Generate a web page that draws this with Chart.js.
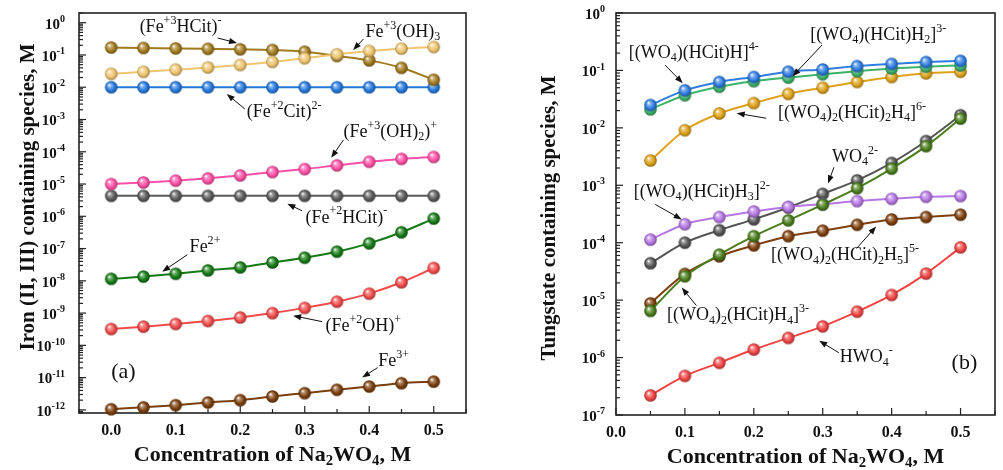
<!DOCTYPE html>
<html>
<head>
<meta charset="utf-8">
<script src="https://cdn.jsdelivr.net/npm/chart.js@4.4.0/dist/chart.umd.min.js"></script>
<style>
  html, body { margin: 0; padding: 0; background: #fff; }
  #wrap { position: relative; width: 1003px; height: 470px; }
  canvas { position: absolute; top: 0; }
</style>
</head>
<body>
<div id="wrap">
  <canvas id="chartA" width="495" height="470" style="left:0"></canvas>
  <canvas id="chartB" width="508" height="470" style="left:495px"></canvas>
</div>
<script>
// concentration of Na2WO4, M
const concA = [0, 0.05, 0.1, 0.15, 0.2, 0.25, 0.3, 0.35, 0.4, 0.45, 0.5];
const concB = [0.05, 0.1, 0.15, 0.2, 0.25, 0.3, 0.35, 0.4, 0.45, 0.5];

// (a) iron species, M
const fe3HCit = [0.17, 0.165, 0.16, 0.155, 0.15, 0.143, 0.126, 0.093, 0.068, 0.04, 0.017];
const fe3OH3 = [0.026, 0.030, 0.035, 0.041, 0.049, 0.061, 0.079, 0.105, 0.133, 0.157, 0.177];
const fe2Cit = [0.01, 0.01, 0.01, 0.01, 0.01, 0.01, 0.01, 0.01, 0.01, 0.01, 0.01];
const fe3OH2 = [1.0e-5, 1.12e-5, 1.27e-5, 1.5e-5, 1.85e-5, 2.35e-5, 2.9e-5, 3.8e-5, 4.9e-5, 6.0e-5, 6.9e-5];
const fe2HCit = [4.3e-6, 4.3e-6, 4.3e-6, 4.3e-6, 4.3e-6, 4.3e-6, 4.3e-6, 4.3e-6, 4.3e-6, 4.3e-6, 4.3e-6];
const fe2 = [1.15e-8, 1.35e-8, 1.65e-8, 2.1e-8, 2.6e-8, 3.7e-8, 5.2e-8, 8.0e-8, 1.45e-7, 3.2e-7, 8.5e-7];
const fe2OH = [3.2e-10, 3.8e-10, 4.6e-10, 5.7e-10, 7.3e-10, 1.0e-9, 1.45e-9, 2.25e-9, 4.0e-9, 9.0e-9, 2.5e-8];
const fe3 = [1.05e-12, 1.2e-12, 1.4e-12, 1.7e-12, 2.0e-12, 2.6e-12, 3.3e-12, 4.2e-12, 5.3e-12, 6.7e-12, 7.5e-12];

// (b) tungstate species, M
const wHCitH = [0.025, 0.045, 0.063, 0.077, 0.095, 0.104, 0.119, 0.13, 0.14, 0.147];
const wHCitH2 = [0.021, 0.037, 0.052, 0.065, 0.075, 0.086, 0.097, 0.108, 0.116, 0.122];
const w2HCit2H4 = [0.0027, 0.0091, 0.0178, 0.027, 0.039, 0.050, 0.063, 0.077, 0.089, 0.095];
const wo4 = [4.4e-5, 1.0e-4, 1.65e-4, 2.55e-4, 4.1e-4, 7.1e-4, 1.22e-3, 2.45e-3, 5.9e-3, 0.0166];
const w2HCitH4 = [6.5e-6, 2.6e-5, 6.2e-5, 1.3e-4, 2.45e-4, 4.6e-4, 8.9e-4, 1.95e-3, 4.8e-3, 0.0145];
const wHCitH3 = [1.13e-4, 2.1e-4, 2.8e-4, 3.5e-4, 4.2e-4, 4.7e-4, 5.3e-4, 5.8e-4, 6.3e-4, 6.5e-4];
const w2HCit2H5 = [8.8e-6, 2.86e-5, 5.8e-5, 9.0e-5, 1.3e-4, 1.62e-4, 2.05e-4, 2.54e-4, 2.8e-4, 3.07e-4];
const hwo4 = [2.2e-7, 4.8e-7, 8.1e-7, 1.38e-6, 2.2e-6, 3.5e-6, 6.3e-6, 1.23e-5, 2.9e-5, 8.3e-5];

// labels with arrows: text left x, log10 y of text middle, arrow from / to
const notesA = [
  { t: '(Fe^{+3}HCit)^{-}', x: 0.044, e: -0.133, from: [0.165, -0.474], to: [0.195, -0.628] },
  { t: 'Fe^{+3}(OH)_{3}', x: 0.394, e: -0.288, from: [0.391, -0.505], to: [0.375, -0.845] },
  { t: '(Fe^{+2}Cit)^{2-}', x: 0.210, e: -2.765, from: [0.207, -2.672], to: [0.179, -2.207] },
  { t: '(Fe^{+3}(OH)_{2})^{+}', x: 0.360, e: -3.384, from: [0.360, -3.632], to: [0.341, -4.189] },
  { t: '(Fe^{+2}HCit)^{-}', x: 0.301, e: -6.046, from: [0.296, -5.83], to: [0.273, -5.613] },
  { t: 'Fe^{2+}', x: 0.1215, e: -6.975, from: [0.118, -7.19], to: [0.079, -7.718] },
  { t: '(Fe^{+2}OH)^{+}', x: 0.332, e: -9.42, from: [0.327, -9.266], to: [0.282, -9.08] },
  { t: 'Fe^{3+}', x: 0.414, e: -10.505, from: [0.413, -10.69], to: [0.389, -11.0] }
];
const notesB = [
  { t: '[(WO_{4})(HCit)H]^{4-}', x: 0.0185, e: -0.698, from: [0.0712, -0.9075], to: [0.0969, -1.2216] },
  { t: '[(WO_{4})(HCit)H_{2}]^{3-}', x: 0.282, e: -0.384, from: [0.299, -0.558], to: [0.2564, -1.0995] },
  { t: '[(WO_{4})_{2}(HCit)_{2}H_{4}]^{6-}', x: 0.235, e: -1.745, from: [0.218, -1.8325], to: [0.1752, -1.745] },
  { t: 'WO_{4}^{2-}', x: 0.3134, e: -2.513, from: [0.3162, -2.688], to: [0.3077, -2.967] },
  { t: '[(WO_{4})(HCit)H_{3}]^{2-}', x: 0.0256, e: -3.124, from: [0.057, -3.333], to: [0.0954, -3.595] },
  { t: '[(WO_{4})_{2}(HCit)_{2}H_{5}]^{5-}', x: 0.225, e: -4.223, from: [0.349, -4.101], to: [0.3775, -3.717] },
  { t: '[(WO_{4})_{2}(HCit)H_{4}]^{3-}', x: 0.074, e: -5.27, from: [0.1168, -5.096], to: [0.0954, -4.782] },
  { t: 'HWO_{4}^{-}', x: 0.3248, e: -6.003, from: [0.3234, -5.916], to: [0.2949, -5.707] }
];

const SERIF = '"Liberation Serif", "Times New Roman", serif';

function parseRich(s) {
  const out = [];
  let i = 0, buf = '';
  while (i < s.length) {
    const c = s[i];
    if ((c === '^' || c === '_') && s[i + 1] === '{') {
      if (buf) { out.push({ t: buf, k: 0 }); buf = ''; }
      const j = s.indexOf('}', i);
      out.push({ t: s.slice(i + 2, j), k: c === '^' ? 1 : -1 });
      i = j + 1;
    } else { buf += c; i++; }
  }
  if (buf) out.push({ t: buf, k: 0 });
  return out;
}

function drawRich(ctx, s, x, y, size, bold, align) {
  const parts = parseRich(s);
  const font = sz => (bold ? 'bold ' : '') + sz + 'px ' + SERIF;
  let w = 0;
  parts.forEach(p => {
    ctx.font = font(p.k ? size * 0.67 : size);
    p.w = ctx.measureText(p.t).width;
    w += p.w;
  });
  let cx = align === 'center' ? x - w / 2 : align === 'right' ? x - w : x;
  ctx.textAlign = 'left';
  ctx.textBaseline = 'middle';
  parts.forEach(p => {
    ctx.font = font(p.k ? size * 0.67 : size);
    const dy = p.k === 1 ? -size * 0.36 : p.k === -1 ? size * 0.27 : 0;
    ctx.fillText(p.t, cx, y + dy);
    cx += p.w;
  });
}

function mix(hex, other, f) {
  const a = [1, 3, 5].map(i => parseInt(hex.slice(i, i + 2), 16));
  const b = [1, 3, 5].map(i => parseInt(other.slice(i, i + 2), 16));
  return 'rgb(' + a.map((v, i) => Math.round(v + (b[i] - v) * f)).join(',') + ')';
}

// shaded ball marker
function ball(color) {
  const c = document.createElement('canvas');
  c.width = c.height = 15;
  const g = c.getContext('2d');
  const grd = g.createRadialGradient(5.4, 5.2, 0.3, 7.5, 7.5, 6.4);
  grd.addColorStop(0, '#ffffff');
  grd.addColorStop(0.22, mix(color, '#ffffff', 0.45));
  grd.addColorStop(0.65, color);
  grd.addColorStop(1, mix(color, '#000000', 0.35));
  g.fillStyle = grd;
  g.beginPath();
  g.arc(7.5, 7.5, 6.3, 0, Math.PI * 2);
  g.fill();
  return c;
}

function series(label, xs, ys, color) {
  return {
    label: label,
    data: xs.map((x, i) => ({ x: x, y: ys[i] })),
    borderColor: color,
    backgroundColor: color,
    borderWidth: 2,
    pointStyle: ball(color),
    pointRadius: 6,
    cubicInterpolationMode: 'monotone',
    clip: false
  };
}

function arrow(ctx, x0, y0, x1, y1) {
  const ang = Math.atan2(y1 - y0, x1 - x0);
  const L = 8, W = 3;
  ctx.beginPath();
  ctx.moveTo(x0, y0);
  ctx.lineTo(x1 - Math.cos(ang) * L * 0.8, y1 - Math.sin(ang) * L * 0.8);
  ctx.stroke();
  ctx.beginPath();
  ctx.moveTo(x1, y1);
  ctx.lineTo(x1 - Math.cos(ang) * L - Math.sin(ang) * W, y1 - Math.sin(ang) * L + Math.cos(ang) * W);
  ctx.lineTo(x1 - Math.cos(ang) * L + Math.sin(ang) * W, y1 - Math.sin(ang) * L - Math.cos(ang) * W);
  ctx.closePath();
  ctx.fill();
}

const decor = {
  id: 'decor',
  beforeDatasetsDraw(chart, args, o) {
    const { ctx, chartArea: a, scales: { x, y } } = chart;
    ctx.save();
    ctx.strokeStyle = '#222';
    ctx.fillStyle = '#111';
    ctx.lineWidth = 1.2;
    // x ticks, inward
    for (let k = Math.ceil(x.min / 0.05 - 1e-9); k * 0.05 <= x.max + 1e-9; k++) {
      const px = x.getPixelForValue(k * 0.05);
      const major = k % 2 === 0;
      ctx.beginPath();
      ctx.moveTo(px, a.bottom);
      ctx.lineTo(px, a.bottom - (major ? 7 : 4));
      ctx.stroke();
      if (major) drawRich(ctx, (k * 0.05).toFixed(1), px, a.bottom + 18, 16, true, 'center');
    }
    // y ticks, log
    const e0 = Math.floor(Math.log10(y.min)), e1 = Math.ceil(Math.log10(y.max));
    for (let e = e0; e <= e1; e++) {
      for (let m = 1; m <= 9; m++) {
        const v = m * Math.pow(10, e);
        if (v < y.min * 0.999 || v > y.max * 1.001) continue;
        const py = y.getPixelForValue(v);
        ctx.beginPath();
        ctx.moveTo(a.left, py);
        ctx.lineTo(a.left + (m === 1 ? 7 : 4), py);
        ctx.stroke();
        if (m === 1) drawRich(ctx, '10^{' + e + '}', a.left - o.gap, py + 2, 15, true, 'right');
      }
    }
    // frame
    ctx.lineWidth = 1.6;
    ctx.strokeRect(a.left, a.top, a.right - a.left, a.bottom - a.top);
    // axis titles
    drawRich(ctx, 'Concentration of Na_{2}WO_{4}, M', (a.left + a.right) / 2, a.bottom + 42, 22, true, 'center');
    ctx.translate(a.left + o.ytX, (a.top + a.bottom) / 2 + o.ytY);
    ctx.rotate(-Math.PI / 2);
    drawRich(ctx, o.yTitle, 0, 0, 21, true, 'center');
    ctx.restore();
  },
  afterDatasetsDraw(chart, args, o) {
    const { ctx, scales: { x, y } } = chart;
    ctx.save();
    ctx.fillStyle = '#111';
    ctx.strokeStyle = '#111';
    ctx.lineWidth = 1;
    o.notes.forEach(n => {
      drawRich(ctx, n.t, x.getPixelForValue(n.x), y.getPixelForValue(Math.pow(10, n.e)), 18, false, 'left');
      arrow(ctx,
        x.getPixelForValue(n.from[0]), y.getPixelForValue(Math.pow(10, n.from[1])),
        x.getPixelForValue(n.to[0]), y.getPixelForValue(Math.pow(10, n.to[1])));
    });
    const p = o.panel;
    drawRich(ctx, p.t, x.getPixelForValue(p.x), y.getPixelForValue(Math.pow(10, p.e)), 22, false, 'left');
    ctx.restore();
  }
};

function makeChart(id, datasets, xMin, yMin, yMax, yW, xH, padRight, deco) {
  return new Chart(document.getElementById(id), {
    type: 'line',
    data: { datasets: datasets },
    plugins: [decor],
    options: {
      responsive: false,
      animation: false,
      events: [],
      layout: { padding: { top: 13, right: padRight, left: 0, bottom: 0 } },
      plugins: { legend: { display: false }, tooltip: { enabled: false }, decor: deco },
      scales: {
        x: {
          type: 'linear', min: xMin, max: 0.55,
          grid: { display: false }, border: { display: false }, ticks: { display: false },
          afterFit(s) { s.height = xH; }
        },
        y: {
          type: 'logarithmic', min: yMin, max: yMax,
          grid: { display: false }, border: { display: false }, ticks: { display: false },
          afterFit(s) { s.width = yW; }
        }
      }
    }
  });
}

makeChart('chartA', [
  series('Fe+3(OH)3', concA, fe3OH3, '#EEC46E'),
  series('(Fe+3HCit)-', concA, fe3HCit, '#A27A1E'),
  series('(Fe+2Cit)2-', concA, fe2Cit, '#2478DC'),
  series('(Fe+3(OH)2)+', concA, fe3OH2, '#FF4FA6'),
  series('(Fe+2HCit)-', concA, fe2HCit, '#5A5A5A'),
  series('Fe2+', concA, fe2, '#157A15'),
  series('(Fe+2OH)+', concA, fe2OH, '#F24A4A'),
  series('Fe3+', concA, fe3, '#7B3F0C')
], -0.05, 8e-13, 2, 79, 57, 29, {
  gap: 14, ytX: -50, ytY: -16,
  yTitle: 'Iron (II, III) containing species, M',
  notes: notesA, panel: { t: '(a)', x: 0.0, e: -10.845 }
});

makeChart('chartB', [
  series('[(WO4)(HCit)H]4-', concB, wHCitH, '#2F7DE0'),
  series('[(WO4)(HCit)H2]3-', concB, wHCitH2, '#3DB36A'),
  series('[(WO4)2(HCit)2H4]6-', concB, w2HCit2H4, '#DDA21A'),
  series('[(WO4)2(HCit)H4]3-', concB, w2HCitH4, '#4A7D1C'),
  series('[(WO4)(HCit)H3]2-', concB, wHCitH3, '#B577E3'),
  series('WO4 2-', concB, wo4, '#555555'),
  series('[(WO4)2(HCit)2H5]5-', concB, w2HCit2H5, '#7E3F0E'),
  series('HWO4-', concB, hwo4, '#F04444')
], 0, 1e-7, 1, 121, 55, 3, {
  gap: 11, ytX: -66, ytY: 4,
  yTitle: 'Tungstate containing species, M',
  notes: notesB, panel: { t: '(b)', x: 0.487, e: -6.091 }
});
</script>
</body>
</html>
